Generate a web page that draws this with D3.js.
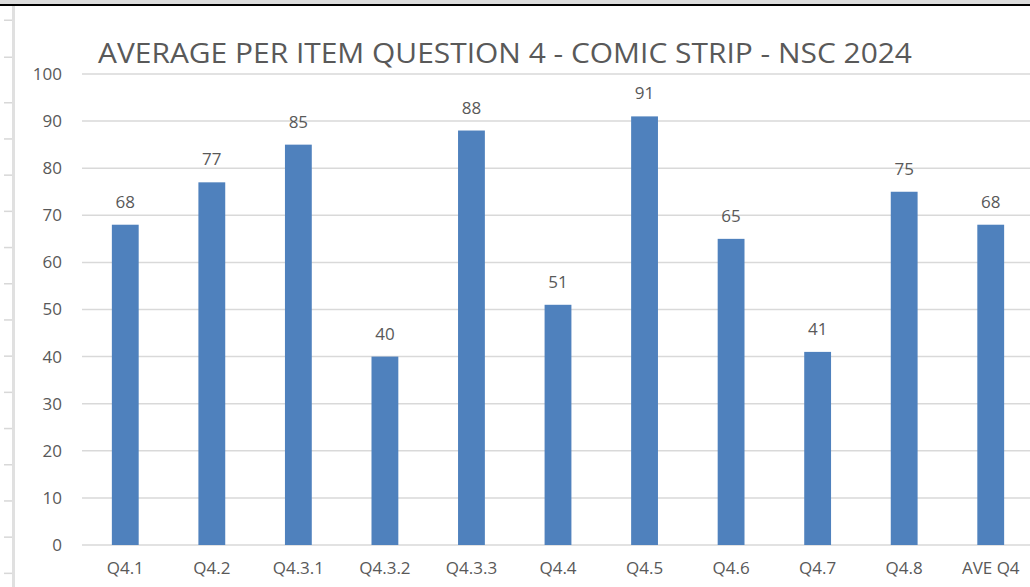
<!DOCTYPE html>
<html>
<head>
<meta charset="utf-8">
<script src="https://cdn.jsdelivr.net/npm/d3@7"></script>
<style>
  html, body { margin: 0; padding: 0; background: #fff; }
  svg { display: block; }
</style>
</head>
<body>
<div class="bar-chart-container"></div>
<script>
const categories = ['Q4.1', 'Q4.2', 'Q4.3.1', 'Q4.3.2', 'Q4.3.3', 'Q4.4', 'Q4.5', 'Q4.6', 'Q4.7', 'Q4.8', 'AVE Q4'];
const averages = [68, 77, 85, 40, 88, 51, 91, 65, 41, 75, 68];
const yTicks = [0, 10, 20, 30, 40, 50, 60, 70, 80, 90, 100];
const title = 'AVERAGE PER ITEM QUESTION 4 - COMIC STRIP - NSC 2024';

const width = 1030;
const height = 587;
const margin = { top: 74, right: -4, bottom: 42, left: 82 };
const innerW = width - margin.left - margin.right;
const innerH = height - margin.top - margin.bottom;

const svg = d3.select('.bar-chart-container')
  .append('svg')
  .attr('width', width)
  .attr('height', height);

// page decoration: strip at the top and the ruler on the left
svg.append('rect').attr('x', 0).attr('y', 0).attr('width', width).attr('height', 4).attr('fill', '#dcdcdc');
svg.append('rect').attr('x', 0).attr('y', 4).attr('width', width).attr('height', 2).attr('fill', '#000');
svg.append('rect').attr('x', 12).attr('y', 6).attr('width', 3).attr('height', height).attr('fill', '#e0e0e0');
const rulerTicks = [20, 57].concat(d3.range(102.5, height, 36.2));
svg.selectAll('.ruler-tick')
  .data(rulerTicks)
  .enter().append('rect')
  .attr('class', 'ruler-tick')
  .attr('x', 4).attr('width', 8)
  .attr('y', d => d - 0.5).attr('height', 1.5)
  .attr('fill', '#d8d8d8');

const g = svg.append('g')
  .attr('transform', 'translate(' + margin.left + ',' + margin.top + ')');

// Create scales
const x = d3.scaleBand()
  .domain(categories)
  .range([0, innerW])
  .paddingInner(0.69)
  .paddingOuter(0.345);

const y = d3.scaleLinear()
  .domain([0, 100])
  .range([innerH, 0]);

// Gridlines
g.append('g')
  .selectAll('line')
  .data(yTicks)
  .enter().append('line')
  .attr('x1', 0)
  .attr('x2', innerW)
  .attr('y1', d => y(d))
  .attr('y2', d => y(d))
  .attr('stroke', '#d9d9d9')
  .attr('stroke-width', 1.5);

// Y axis
const yAxis = g.append('g')
  .attr('transform', 'translate(-20,0)')
  .call(d3.axisLeft(y).tickValues(yTicks).tickSize(0).tickPadding(0));
yAxis.select('.domain').remove();
yAxis.selectAll('text')
  .attr('fill', '#595959')
  .style('font-family', 'Open Sans, sans-serif')
  .style('font-size', '17px');

// X axis
const xAxis = g.append('g')
  .attr('transform', 'translate(0,' + innerH + ')')
  .call(d3.axisBottom(x).tickSize(0).tickPadding(17));
xAxis.select('.domain').remove();
xAxis.selectAll('text')
  .attr('fill', '#595959')
  .style('font-family', 'Open Sans, sans-serif')
  .style('font-size', '17px');

// Bars
g.selectAll('.bar')
  .data(averages)
  .enter().append('rect')
  .attr('class', 'bar')
  .attr('x', (d, i) => x(categories[i]))
  .attr('width', x.bandwidth())
  .attr('y', d => y(d))
  .attr('height', d => innerH - y(d))
  .attr('fill', '#4f81bd');

// Data labels
g.selectAll('.label')
  .data(averages)
  .enter().append('text')
  .attr('class', 'label')
  .attr('x', (d, i) => x(categories[i]) + x.bandwidth() / 2)
  .attr('y', d => y(d) - 17)
  .attr('text-anchor', 'middle')
  .attr('fill', '#595959')
  .style('font-family', 'Open Sans, sans-serif')
  .style('font-size', '17px')
  .text(d => d);

// Title
svg.append('text')
  .attr('x', 98)
  .attr('y', 63)
  .attr('textLength', 814)
  .attr('lengthAdjust', 'spacingAndGlyphs')
  .attr('fill', '#595959')
  .style('font-family', 'Open Sans, sans-serif')
  .style('font-size', '27px')
  .text(title);
</script>
</body>
</html>
